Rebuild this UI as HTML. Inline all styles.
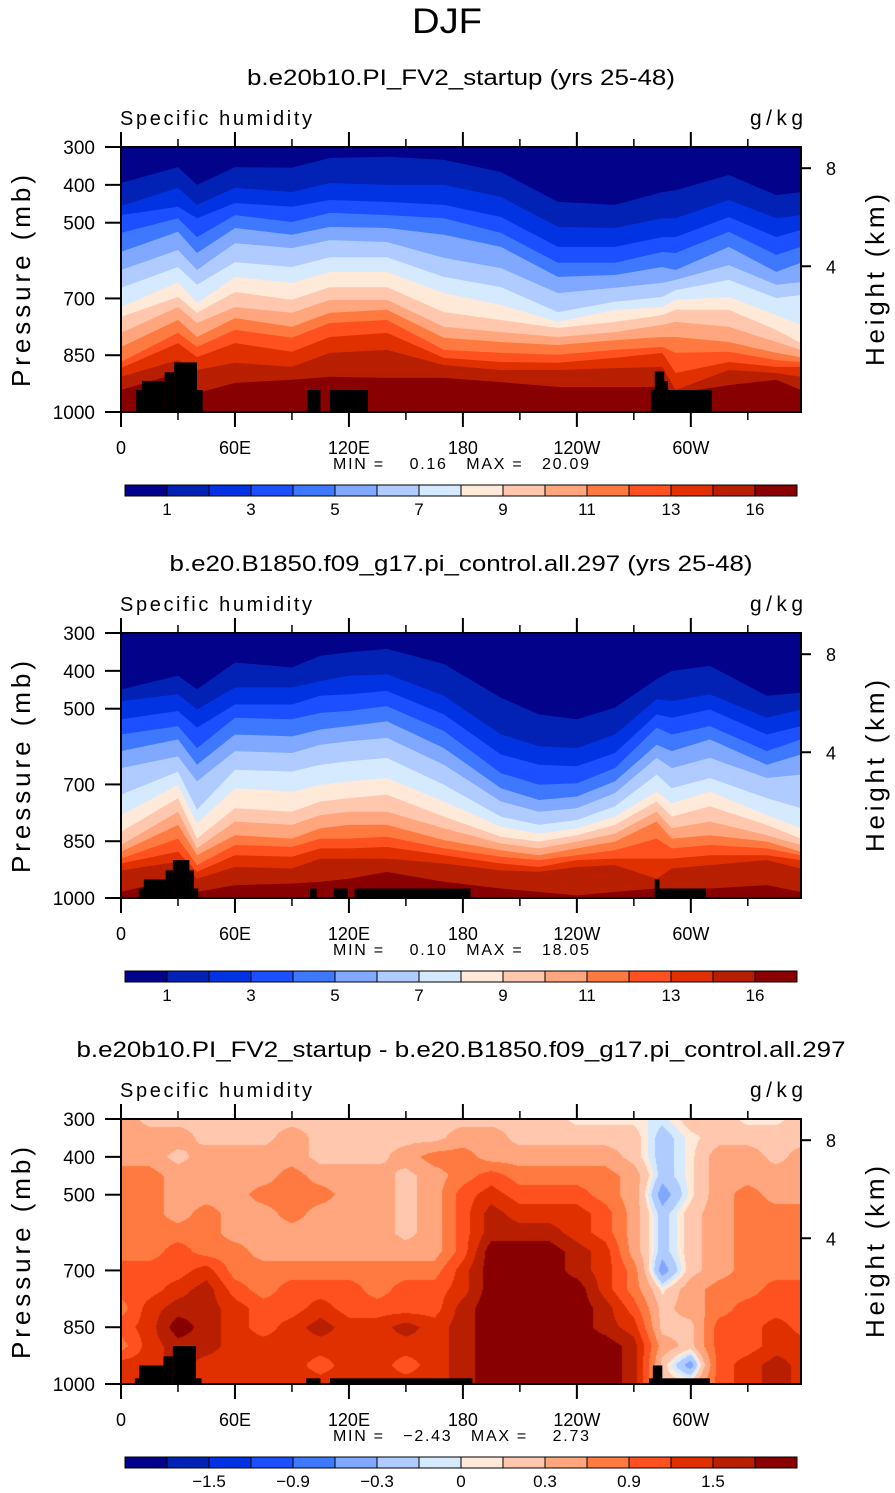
<!DOCTYPE html>
<html><head><meta charset="utf-8">
<style>
html,body{margin:0;padding:0;background:#fff;}
#wrap{position:relative;width:895px;height:1493px;overflow:hidden;}
svg{position:absolute;left:0;top:0;}
canvas{position:absolute;}
text{font-family:"Liberation Sans",sans-serif;fill:#000;}
</style></head>
<body>
<div id="wrap">
<canvas id="c3" width="680" height="265" style="left:121px;top:1119px;"></canvas>
<svg id="svg" width="895" height="1493" xmlns="http://www.w3.org/2000/svg"></svg>
</div>
<script>
const COLORS=["#02038a","#0222b6","#0233e2","#1b4fff","#3d78ff","#80a8ff","#b0cbff","#d5e9ff","#ffe9d9","#ffc8ae","#ffa67e","#ff7a40","#ff5020","#e03000","#b81f00","#880000"];
const LEVEL_LABELS_Q=["1","3","5","7","9","11","13","16"];
const LEVEL_LABEL_POS_Q=[1,3,5,7,9,11,13,15];
const LEVELS_D=[-1.8,-1.5,-1.2,-0.9,-0.6,-0.3,-0.1,0,0.1,0.3,0.6,0.9,1.2,1.5,1.8];
const LEVEL_LABELS_D=["\u22121.5","\u22120.9","\u22120.3","0","0.3","0.9","1.5"];
const LEVEL_LABEL_POS_D=[2,4,6,8,10,12,14];
const X_TICKS=[0,60,120,180,240,300];
const X_TICK_LABELS=["0","60E","120E","180","120W","60W"];
const X_MINOR=[30,90,150,210,270,330];
const P_TICKS=[300,400,500,700,850,1000];
const H_TICKS=[8,4];
const H_TICK_P=[356,615];

const lon1=[0,30,40,60,90,110,140,170,200,230,260,285,292,320,345,358];
const bounds1=[
[395,456,480,527,577,625,672,723,749,791,828,868,884,907,942],
[353,408,458,488,524,572,617,657,696,723,757,791,818,863,897],
[400,453,488,538,580,625,664,712,738,765,802,828,855,889,950],
[353,408,448,480,514,554,604,643,683,723,752,783,818,870,923],
[355,419,458,498,532,567,617,659,704,738,775,804,841,881,915],
[329,395,440,474,511,546,591,630,670,704,738,765,802,844,907],
[326,400,445,480,514,551,591,630,670,704,730,757,791,836,910],
[334,400,453,488,532,593,643,686,736,775,804,836,857,876,910],
[366,432,485,527,564,620,670,717,757,789,815,844,868,889,921],
[445,511,564,606,643,686,736,762,778,802,823,849,870,889,934],
[453,514,564,606,638,672,709,730,762,789,810,836,857,884,934],
[419,488,538,577,617,659,696,723,744,770,802,828,844,881,934],
[414,488,538,580,625,651,678,704,730,762,802,844,897,942,950],
[374,440,485,524,564,612,651,696,730,775,815,841,868,889,929],
[427,488,538,585,630,664,699,744,783,815,844,863,881,897,915],
[419,480,519,564,606,657,691,770,818,836,855,868,881,907,942]];
const land1=[[8,11,942],[11,23,918],[23,28,895],[28,40,869],[40,43,942],[98,105,942],[110,130,942],[279,311,942],[281,286,893],[286,288,918]];

const lon2=[0,30,40,60,90,105,120,140,170,200,220,240,260,282,290,310,340,358];
const bounds2=[
[449,480,528,568,612,657,727,781,825,860,878,896,909,927,984],
[413,462,506,546,581,626,666,701,736,772,807,843,878,904,949],
[449,502,550,604,648,692,767,803,843,869,887,913,931,949,984],
[378,444,489,524,568,612,661,710,763,798,834,860,887,918,966],
[391,444,489,528,573,617,666,719,772,807,843,865,891,922,962],
[360,427,466,511,555,595,648,701,745,781,816,843,869,896,957],
[351,413,462,506,546,586,639,692,736,772,807,843,869,896,949],
[342,409,453,493,533,577,630,683,727,772,807,838,865,896,931],
[382,466,515,559,604,648,701,745,785,816,847,869,887,909,957],
[471,568,621,670,710,745,785,812,838,856,874,891,909,927,975],
[515,599,648,701,741,772,807,830,851,869,887,900,918,931,984],
[528,604,652,697,732,763,794,816,834,851,869,887,900,918,993],
[497,568,617,657,692,723,758,785,807,830,851,874,896,913,984],
[422,475,515,550,595,630,674,719,745,772,798,843,896,949,975],
[400,480,524,568,612,657,710,750,785,816,843,869,896,922,975],
[387,462,502,546,581,630,683,719,758,798,834,860,887,913,975],
[466,524,568,612,648,683,736,781,807,834,851,869,887,900,966],
[458,502,546,581,621,674,763,816,843,860,878,887,900,922,984]];
const land2=[[9.4,12,975],[12,23.5,951],[23.5,27.3,927],[27.3,36,900],[36,38.4,927],[38.4,40.7,975],[99.5,103,975],[112,119.5,975],[123,184,975],[281,308,975],[281,283.5,951]];

const lon3=[0,15,30,45,60,75,90,105,120,135,150,165,180,195,210,225,240,255,270,285,300,315,330,345,360];
const p3=[300,350,400,450,500,550,600,650,700,750,800,850,900,950,1000];
const diff3=[
[0.45,0.2,0.2,0.2,0.2,0.2,0.2,0.2,0.2,0.2,0.2,0.2,0.2,0.2,0.2,0.2,0.05,0.05,0.05,-0.05,0.2,0.2,0.05,0.05,0.2],
[0.45,0.45,0.45,0.2,0.2,0.2,0.45,0.2,0.2,0.2,0.2,0.2,0.45,0.45,0.2,0.2,0.2,0.2,0.2,-0.2,0.05,0.2,0.2,0.2,0.2],
[0.45,0.45,0.2,0.45,0.45,0.45,0.45,0.2,0.2,0.2,0.45,0.75,0.75,0.45,0.45,0.45,0.45,0.45,0.2,-0.2,0.05,0.45,0.45,0.2,0.45],
[0.75,0.75,0.45,0.45,0.45,0.45,0.75,0.45,0.45,0.45,0.2,0.45,0.75,1.05,0.75,0.75,0.75,0.75,0.45,-0.2,0.05,0.45,0.45,0.45,0.45],
[0.75,0.75,0.45,0.45,0.45,0.75,0.75,0.75,0.45,0.45,0.2,0.45,1.05,1.35,1.05,1.05,1.05,0.75,0.45,-0.45,0.05,0.45,0.75,0.45,0.45],
[0.75,0.75,0.45,0.75,0.45,0.45,0.75,0.45,0.45,0.45,0.2,0.45,1.05,1.65,1.35,1.35,1.35,1.05,0.45,-0.2,0.2,0.45,0.75,0.75,0.75],
[0.75,0.75,0.75,0.75,0.45,0.45,0.45,0.45,0.45,0.45,0.2,0.45,1.05,1.65,1.65,1.65,1.35,1.05,0.45,-0.2,0.2,0.45,0.75,0.75,0.75],
[0.75,0.75,1.05,0.75,0.75,0.45,0.45,0.45,0.45,0.45,0.45,0.45,1.05,2.0,2.0,2.0,1.65,1.35,0.45,-0.2,0.2,0.45,0.75,0.75,0.75],
[1.05,1.05,1.05,1.35,0.75,0.75,0.75,0.75,0.75,0.75,0.75,0.75,1.35,2.0,2.0,2.0,1.65,1.35,0.75,-0.45,0.2,0.45,0.75,0.75,0.75],
[1.05,1.05,1.35,1.65,1.05,0.75,1.05,1.05,1.05,0.75,1.05,1.05,1.35,2.0,2.0,2.0,2.0,1.35,0.75,0.05,0.45,0.75,0.75,1.05,1.05],
[0.75,1.35,1.65,1.65,1.35,1.05,1.05,1.35,1.05,1.05,1.05,1.05,1.65,2.0,2.0,2.0,2.0,1.65,1.05,0.2,0.45,0.75,1.05,1.05,1.05],
[1.05,1.35,2.0,1.65,1.35,1.05,1.35,1.65,1.35,1.35,1.65,1.35,1.65,2.0,2.0,2.0,2.0,1.65,1.35,0.2,0.2,1.05,1.05,1.35,1.05],
[0.75,1.35,1.65,1.65,1.35,1.35,1.35,1.35,1.35,1.35,1.35,1.35,1.65,2.0,2.0,2.0,2.0,2.0,1.65,0.45,0.2,1.05,1.05,1.35,1.35],
[1.35,1.35,1.65,1.35,1.35,1.35,1.35,1.05,1.35,1.35,1.05,1.35,1.65,2.0,2.0,2.0,2.0,2.0,1.65,0.2,-0.45,1.05,1.35,1.65,1.35],
[1.35,1.65,1.65,1.35,1.35,1.35,1.35,1.35,1.35,1.35,1.35,1.35,1.65,2.0,2.0,2.0,2.0,2.0,1.65,0.2,0.2,1.05,1.35,1.65,1.35]];
const land3=[[7.3,9.6,985],[9.6,22.4,951],[22.4,27.3,927],[27.3,39.5,900],[39.5,42.4,985],[97.5,105,985],[110,185,985],[278,310,985],[280,285,951]];

const PANEL_TOPS=[147,633,1119];
const TITLES=["b.e20b10.PI_FV2_startup (yrs 25-48)","b.e20.B1850.f09_g17.pi_control.all.297 (yrs 25-48)","b.e20b10.PI_FV2_startup - b.e20.B1850.f09_g17.pi_control.all.297"];
const TITLE_W=[428,583,769];
const MINMAX=["MIN =    0.16   MAX =   20.09","MIN =    0.10   MAX =   18.05","MIN =   \u22122.43   MAX =    2.73"];

const L=121,R=801,H=265;
function xOf(lon){return L+lon*(R-L)/358;}
function yOf(p,top){return top+(p-300)*H/700;}
const NS="http://www.w3.org/2000/svg";
const svg=document.getElementById('svg');
function mk(tag,attrs,parent){const e=document.createElementNS(NS,tag);for(const k in attrs)e.setAttribute(k,attrs[k]);(parent||svg).appendChild(e);return e;}
function txt(s,attrs,parent){const e=mk('text',attrs,parent);e.textContent=s;return e;}

const djf=txt("DJF",{x:447,y:33,'font-size':35,'text-anchor':'middle',fill:'#333','textLength':70,'lengthAdjust':'spacingAndGlyphs'});



function contourPanel(idx,lons,bounds,land){
  const top=PANEL_TOPS[idx];
  const g=mk('g',{});
  
  
  const cp=mk('clipPath',{id:'clip'+idx},g);
  mk('rect',{x:L,y:top,width:R-L,height:H},cp);
  const inner=mk('g',{'clip-path':'url(#clip'+idx+')'},g);
  const bg=mk('rect',{x:L,y:top,width:R-L,height:H,fill:COLORS[15]},inner);
  
  
  for(let k=14;k>=0;k--){
    let d='M'+xOf(lons[0])+','+(top-1);
    for(let i=0;i<lons.length;i++){d+=' L'+xOf(lons[i]).toFixed(1)+','+yOf(bounds[i][k],top).toFixed(1);}
    d+=' L'+(R+2)+','+yOf(bounds[lons.length-1][k],top).toFixed(1)+' L'+(R+2)+','+(top-1)+' Z';
    const band=mk('path',{d:d,fill:COLORS[k]},inner);
    
    
  }
  drawLand(idx,land);
}
function drawLand(idx,land){
  const top=PANEL_TOPS[idx];
  for(const b of land){
    const r=mk('rect',{x:xOf(b[0]),y:yOf(b[2],top),width:xOf(b[1])-xOf(b[0]),height:yOf(1000,top)-yOf(b[2],top),fill:'#000'});
    
    
  }
}
function levelIndex(v,levels){let n=0;for(const l of levels){if(v>=l)n++;}return n;}
function heatPanel(){
  const c=document.getElementById('c3');const ctx=c.getContext('2d');
  const img=ctx.createImageData(680,265);
  const rgb=COLORS.map(h=>[parseInt(h.slice(1,3),16),parseInt(h.slice(3,5),16),parseInt(h.slice(5,7),16)]);
  for(let py=0;py<265;py++){
    const p=300+(py+0.5)*700/265;
    let j=0;while(j<p3.length-2&&p>p3[j+1])j++;
    const ty=Math.min(1,Math.max(0,(p-p3[j])/(p3[j+1]-p3[j])));
    for(let px=0;px<680;px++){
      const lon=(px+0.5)*358/680;
      let i=0;while(i<lon3.length-2&&lon>lon3[i+1])i++;
      const tx=(lon-lon3[i])/(lon3[i+1]-lon3[i]);
      const v=(1-ty)*((1-tx)*diff3[j][i]+tx*diff3[j][i+1])+ty*((1-tx)*diff3[j+1][i]+tx*diff3[j+1][i+1]);
      const col=rgb[levelIndex(v,LEVELS_D)];
      const o=(py*680+px)*4;img.data[o]=col[0];img.data[o+1]=col[1];img.data[o+2]=col[2];img.data[o+3]=255;
    }
  }
  ctx.putImageData(img,0,0);
  drawLand(2,land3);
}

function axes(idx){
  const top=PANEL_TOPS[idx],bot=top+H;
  const g=mk('g',{});
  
  
  mk('rect',{x:L,y:top,width:R-L,height:H,fill:'none',stroke:'#000','stroke-width':2},g);
  for(let i=0;i<X_TICKS.length;i++){
    const x=xOf(X_TICKS[i]);
    mk('line',{x1:x,x2:x,y1:bot,y2:bot+15,stroke:'#000','stroke-width':2},g);
    mk('line',{x1:x,x2:x,y1:top,y2:top-15,stroke:'#000','stroke-width':2},g);
    const t=txt(X_TICK_LABELS[i],{x:x,y:bot+42,'font-size':18,'text-anchor':'middle'},g);
    
    
  }
  for(const m of X_MINOR){
    const x=xOf(m);
    mk('line',{x1:x,x2:x,y1:bot,y2:bot+8,stroke:'#000','stroke-width':1.5},g);
    mk('line',{x1:x,x2:x,y1:top,y2:top-8,stroke:'#000','stroke-width':1.5},g);
  }
  for(const p of P_TICKS){
    const y=yOf(p,top);
    mk('line',{x1:L-16,x2:L,y1:y,y2:y,stroke:'#000','stroke-width':2},g);
    const t=txt(String(p),{x:95,y:y+7,'font-size':19,'text-anchor':'end'},g);
    
    
  }
  for(let i=0;i<H_TICKS.length;i++){
    const y=yOf(H_TICK_P[i],top);
    mk('line',{x1:R,x2:R+10,y1:y,y2:y,stroke:'#000','stroke-width':2},g);
    const t=txt(String(H_TICKS[i]),{x:826,y:y+7,'font-size':18},g);
    
    
  }
  const mid=top+134;
  const yl=txt("Pressure (mb)",{x:0,y:0,'font-size':26,'text-anchor':'middle',transform:'translate(30,'+mid+') rotate(-90)','textLength':212,'lengthAdjust':'spacing'},g);
  
  
  const yr=txt("Height (km)",{x:0,y:0,'font-size':26,'text-anchor':'middle',transform:'translate(884,'+(top+133)+') rotate(-90)','textLength':172,'lengthAdjust':'spacing'},g);
  
  
  const vn=txt("Specific humidity",{x:120,y:top-22,'font-size':20,'textLength':192,'lengthAdjust':'spacing'},g);
  
  
  const un=txt("g/kg",{x:803,y:top-22,'font-size':21,'text-anchor':'end','textLength':53,'lengthAdjust':'spacing'},g);
  
  
  const ti=txt(TITLES[idx],{x:461,y:top-62,'font-size':22,'text-anchor':'middle','textLength':TITLE_W[idx],'lengthAdjust':'spacingAndGlyphs'},g);
  
  
  const mm=txt(MINMAX[idx],{x:333,y:bot+57,'font-size':16,'textLength':256,'lengthAdjust':'spacing','style':'white-space:pre'},g);
  
  
  const cy=bot+73,cx=125,bw=42;
  const cb=mk('g',{},g);
  
  
  for(let k=0;k<16;k++){
    const r=mk('rect',{x:cx+k*bw,y:cy,width:bw,height:11,fill:COLORS[k],stroke:'#000','stroke-width':1},cb);
    
    
  }
  const labs=idx<2?LEVEL_LABELS_Q:LEVEL_LABELS_D, pos=idx<2?LEVEL_LABEL_POS_Q:LEVEL_LABEL_POS_D;
  for(let i=0;i<labs.length;i++){
    const t=txt(labs[i],{x:cx+pos[i]*bw,y:cy+30,'font-size':17,'text-anchor':'middle'},cb);
    
    
  }
}
contourPanel(0,lon1,bounds1,land1);
contourPanel(1,lon2,bounds2,land2);
heatPanel();
axes(0);axes(1);axes(2);
</script>
</body></html>
